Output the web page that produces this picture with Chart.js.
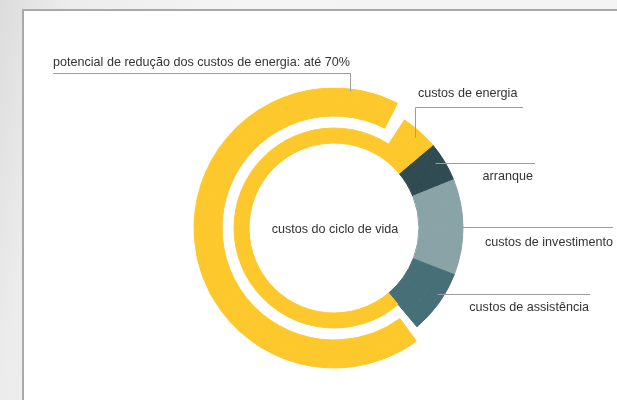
<!DOCTYPE html>
<html>
<head>
<meta charset="utf-8">
<script src="https://cdn.jsdelivr.net/npm/chart.js@4.4.0/dist/chart.umd.min.js"></script>
<style>
  html, body { margin: 0; padding: 0; }
  body {
    width: 617px; height: 400px; overflow: hidden; position: relative;
    background: linear-gradient(100deg, #dcdcdc 0%, #ececec 10%, #f5f5f5 35%, #f3f3f3 100%);
  }
  #frame {
    position: absolute; left: 22px; top: 9px; width: 700px; height: 500px;
    background: #fff; border-left: 2px solid #a9a9a9; border-top: 2px solid #a9a9a9;
  }
  #chart { position: absolute; left: 0; top: 0; }
</style>
</head>
<body>
<div id="frame"></div>
<canvas id="chart" width="617" height="400"></canvas>
<script>
// life cycle cost shares (%)
const categories = ['arranque', 'custos de investimento', 'custos de assistência', 'custos de energia'];
const lifeCycleShares = [5, 12, 8, 75];
// outer arc: energy saving potential, % of the full circle
const reductionShare = 67.5;
const reductionLabel = 'potencial de redução dos custos de energia: até 70%';
const centerLabel = 'custos do ciclo de vida';

const colors = ['#304b51', '#89a3a6', '#466f78', '#fdc82c'];
const yellow = colors[3];
const none = 'rgba(0,0,0,0)';

// white cuts either side of the outer arc
const gapBefore = 1.1, gapAfter = 1.7;

const [sA, sI, sS, sE] = lifeCycleShares;
const stub = sE - gapBefore - reductionShare - gapAfter;

function ring(data, bg, weight) {
  return { data: data, backgroundColor: bg, borderColor: bg, borderWidth: 1, weight: weight };
}

const datasets = [
  ring([sA + sI + sS + gapBefore, reductionShare, gapAfter + stub], [none, yellow, none], 11),
  ring([sA, sI, sS, gapBefore, reductionShare, gapAfter, stub],
       [colors[0], colors[1], colors[2], none, yellow, none, yellow], 17),
  ring([sA, sI, sS, gapBefore + reductionShare + gapAfter, stub],
       [colors[0], colors[1], colors[2], none, yellow], 12),
  ring([sA, sI, sS, sE], colors, 15)
];

const leaders = {
  id: 'leaders',
  afterDraw(chart) {
    const ctx = chart.ctx;
    const arcs = chart.getDatasetMeta(1).data;
    const cx = arcs[0].x, cy = arcs[0].y;
    const at = (el, t, r) => {
      const a = el.startAngle + t * (el.endAngle - el.startAngle);
      return [Math.round(cx + Math.cos(a) * r) + 0.5, Math.round(cy + Math.sin(a) * r) + 0.5];
    };
    const path = (pts) => {
      ctx.beginPath();
      ctx.moveTo(pts[0][0], pts[0][1]);
      for (let i = 1; i < pts.length; i++) ctx.lineTo(pts[i][0], pts[i][1]);
      ctx.stroke();
    };
    ctx.save();
    ctx.strokeStyle = '#9d9d9d';
    ctx.lineWidth = 1;
    ctx.fillStyle = '#333';
    ctx.font = '12.6px "Liberation Sans", Arial, sans-serif';

    // outer arc
    let p = at(arcs[4], 0.916, 138);
    path([p, [p[0], 73.5], [53, 73.5]]);
    ctx.textAlign = 'left';
    ctx.fillText(reductionLabel, 53, 66);

    // energy
    p = at(arcs[6], 0.5, 122);
    path([p, [p[0], 107.5], [523, 107.5]]);
    ctx.fillText(categories[3], 418, 97);

    // right side segments
    ctx.textAlign = 'right';
    p = at(arcs[0], 0.4, 120);
    path([p, [535, p[1]]]);
    ctx.fillText(categories[0], 533, 180);

    p = at(arcs[1], 0.5, 123);
    path([p, [613, p[1]]]);
    ctx.fillText(categories[1], 613, 246);

    p = at(arcs[2], 0.4, 122);
    path([p, [590, p[1]]]);
    ctx.fillText(categories[2], 589, 311);

    ctx.textAlign = 'center';
    ctx.fillText(centerLabel, cx + 1, 233);
    ctx.restore();
  }
};

new Chart(document.getElementById('chart').getContext('2d'), {
  type: 'doughnut',
  data: { labels: categories, datasets: datasets },
  options: {
    responsive: false,
    animation: false,
    events: [],
    rotation: 50,
    radius: 140,
    cutout: '60.7%',
    layout: { padding: { left: 194, right: 143, top: 88, bottom: 32 } },
    plugins: { legend: { display: false }, tooltip: { enabled: false } }
  },
  plugins: [leaders]
});
</script>
</body>
</html>
